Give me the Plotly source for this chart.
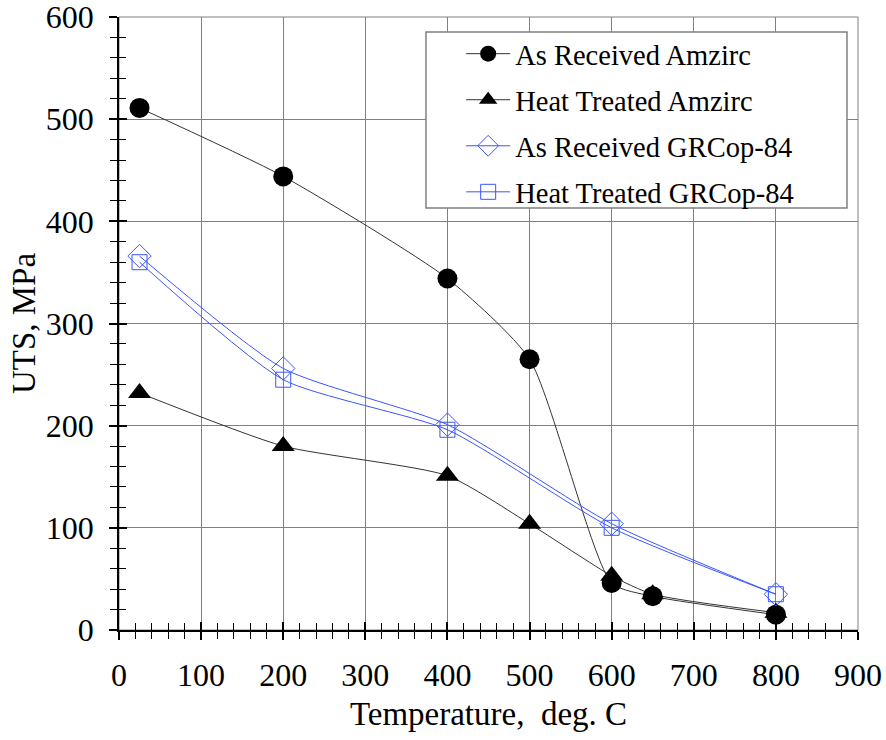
import plotly.graph_objects as go

# ---- data ----
temp_ar_amzirc = [25, 200, 400, 500, 600, 650, 800]
uts_ar_amzirc = [511, 444, 344, 265, 46, 33, 15]

temp_ht_amzirc = [25, 200, 400, 500, 600, 650, 800]
uts_ht_amzirc = [232, 180, 151, 104, 53, 35, 17]

temp_ar_grcop = [25, 200, 400, 600, 800]
uts_ar_grcop = [366, 256, 201, 104, 35]

temp_ht_grcop = [25, 200, 400, 600, 800]
uts_ht_grcop = [360, 245, 196, 100, 35]

x_ticks = [0, 100, 200, 300, 400, 500, 600, 700, 800, 900]
y_ticks = [0, 100, 200, 300, 400, 500, 600]

FONT = "Liberation Serif"
BLUE = "#3a55ff"
BLACK_LINE = "#333333"

fig = go.Figure()

# heat treated Amzirc drawn first so circles sit on top
fig.add_trace(go.Scatter(
    x=temp_ht_amzirc, y=uts_ht_amzirc, name="Heat Treated Amzirc",
    mode="lines+markers", line=dict(color=BLACK_LINE, width=1, shape="spline", smoothing=0.6),
    marker=dict(symbol="triangle-up", size=20, color="black"),
    legendrank=2, legendgroup="b"))
fig.add_trace(go.Scatter(
    x=temp_ar_amzirc, y=uts_ar_amzirc, name="As Received Amzirc",
    mode="lines+markers", line=dict(color=BLACK_LINE, width=1, shape="spline", smoothing=0.6),
    marker=dict(symbol="circle", size=20, color="black"),
    legendrank=1, legendgroup="a"))
fig.add_trace(go.Scatter(
    x=temp_ar_grcop, y=uts_ar_grcop, name="As Received GRCop-84",
    mode="lines+markers", line=dict(color=BLUE, width=1, shape="spline", smoothing=0.6),
    marker=dict(symbol="diamond-open", size=18, color=BLUE, line=dict(width=1, color=BLUE)),
    legendrank=3, legendgroup="c"))
fig.add_trace(go.Scatter(
    x=temp_ht_grcop, y=uts_ht_grcop, name="Heat Treated GRCop-84",
    mode="lines+markers", line=dict(color=BLUE, width=1, shape="spline", smoothing=0.6),
    marker=dict(symbol="square-open", size=15, color=BLUE, line=dict(width=1, color=BLUE)),
    legendrank=4, legendgroup="d"))

# invisible trace for the overlay axes (inside halves of the crossing ticks)
fig.add_trace(go.Scatter(x=[0], y=[0], xaxis="x2", yaxis="y2", mode="markers",
                         marker=dict(opacity=0), showlegend=False, hoverinfo="skip"))

axis_common = dict(showline=True, linecolor="black", linewidth=1.5,
                   ticks="outside", ticklen=8, tickcolor="black", tickwidth=1.5,
                   tickfont=dict(family=FONT, size=32, color="black"),
                   ticklabeloverflow="allow", automargin=False,
                   gridcolor="#808080", gridwidth=1, zeroline=False)

fig.update_layout(
    width=886, height=740,
    margin=dict(l=119, r=28, t=17, b=110),
    paper_bgcolor="white", plot_bgcolor="white",
    font=dict(family=FONT, color="black"),
    xaxis=dict(range=[0, 900], tickvals=x_ticks, showgrid=True, ticklabelstandoff=8,
               minor=dict(dtick=20, ticks="outside", ticklen=7, tickcolor="black", tickwidth=1, showgrid=False),
               title=dict(text="Temperature,\u00a0 deg. C", font=dict(family=FONT, size=33, color="black"), standoff=10),
               **axis_common),
    yaxis=dict(range=[0, 600], tickvals=y_ticks, showgrid=True, ticklabelstandoff=9,
               minor=dict(dtick=20, ticks="outside", ticklen=7, tickcolor="black", tickwidth=1, showgrid=False),
               title=dict(text="UTS, MPa", font=dict(family=FONT, size=33, color="black"), standoff=0),
               **axis_common),
    xaxis2=dict(range=[0, 900], overlaying="x", anchor="y2", side="bottom", tickvals=x_ticks,
                ticks="inside", ticklen=8, tickcolor="black", tickwidth=1.5, automargin=False,
                showticklabels=False, showgrid=False, zeroline=False, showline=False,
                minor=dict(dtick=20, ticks="inside", ticklen=7, tickcolor="black", tickwidth=1, showgrid=False)),
    yaxis2=dict(range=[0, 600], overlaying="y", anchor="x2", side="left", tickvals=y_ticks,
                ticks="inside", ticklen=8, tickcolor="black", tickwidth=1.5, automargin=False,
                showticklabels=False, showgrid=False, zeroline=False, showline=False,
                minor=dict(dtick=20, ticks="inside", ticklen=7, tickcolor="black", tickwidth=1, showgrid=False)),
    legend=dict(x=0.463, y=0.981, xanchor="left", yanchor="top",
                bgcolor="rgba(0,0,0,0)", borderwidth=0,
                font=dict(family=FONT, size=28.5, color="black"),
                tracegroupgap=6, itemwidth=44, traceorder="grouped"),
    showlegend=True,
    shapes=[
        dict(type="rect", xref="paper", yref="paper", x0=0, x1=1, y0=0, y1=1,
             line=dict(color="#808080", width=1), fillcolor="rgba(0,0,0,0)", layer="below"),
        dict(type="rect", xref="paper", yref="paper", x0=0.4154, x1=0.9851, y0=0.6884, y1=0.9755,
             line=dict(color="#808080", width=1.5), fillcolor="white", layer="above"),
    ],
)

fig.write_html("out.html")
